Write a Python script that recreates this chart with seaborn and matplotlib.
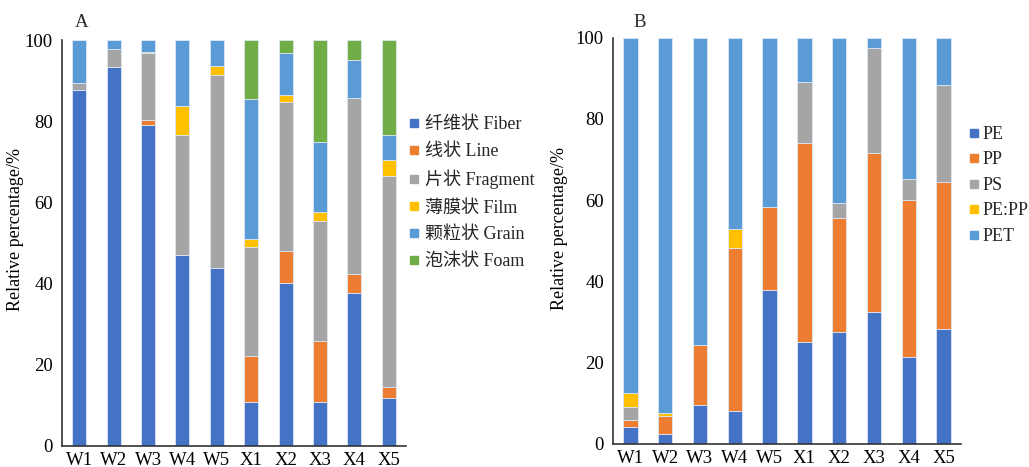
import numpy as np
import pandas as pd
import matplotlib
matplotlib.use("Agg")
import matplotlib.pyplot as plt
from matplotlib.lines import Line2D
import seaborn as sns

# Sampling sites
sites = ["W1", "W2", "W3", "W4", "W5", "X1", "X2", "X3", "X4", "X5"]

# Panel A: microplastic shapes (relative percentage, %)
shape_labels = ["纤维状 Fiber", "线状 Line", "片状 Fragment", "薄膜状 Film", "颗粒状 Grain", "泡沫状 Foam"]
fiber    = [87.7, 93.4, 79.0, 47.0, 43.9, 10.9, 40.2, 10.9, 37.8, 11.7]
line     = [0.0, 0.0, 1.4, 0.0, 0.0, 11.3, 7.8, 15.0, 4.6, 2.8]
fragment = [1.6, 4.3, 16.3, 29.7, 47.6, 26.8, 36.8, 29.5, 43.2, 52.1]
film     = [0.0, 0.0, 0.3, 7.0, 2.2, 2.1, 1.7, 2.2, 0.0, 3.8]
grain    = [10.7, 2.3, 3.0, 16.3, 6.3, 34.3, 10.2, 17.4, 9.6, 6.1]
foam     = [0.0, 0.0, 0.0, 0.0, 0.0, 14.6, 3.3, 25.0, 4.8, 23.5]

# Panel B: polymer types (relative percentage, %)
polymer_labels = ["PE", "PP", "PS", "PE:PP", "PET"]
pe   = [4.1, 2.5, 9.5, 8.2, 37.8, 25.2, 27.5, 32.5, 21.3, 28.4]
pp   = [1.7, 4.3, 14.8, 40.1, 20.5, 48.8, 28.2, 39.2, 38.7, 36.2]
ps   = [3.4, 0.0, 0.0, 0.0, 0.0, 15.1, 3.6, 25.8, 5.2, 23.8]
pepp = [3.3, 0.8, 0.0, 4.7, 0.0, 0.0, 0.0, 0.0, 0.0, 0.0]
pet  = [87.5, 92.4, 75.7, 47.0, 41.7, 10.9, 40.5, 2.5, 34.8, 11.6]

colors_a = ["#4472C4", "#ED7D31", "#A5A5A5", "#FFC000", "#5B9BD5", "#70AD47"]
colors_b = ["#4472C4", "#ED7D31", "#A5A5A5", "#FFC000", "#5B9BD5"]

sns.set_theme(style="white")
plt.rcParams["font.family"] = ["Liberation Serif", "Noto Sans CJK SC", "DejaVu Sans"]
plt.rcParams["axes.unicode_minus"] = False

fig = plt.figure(figsize=(10.29, 4.67), dpi=100)
ax_a = fig.add_axes([0.0603, 0.045, 0.3343, 0.8693])
ax_b = fig.add_axes([0.5957, 0.0493, 0.3382, 0.8700])


def stacked(ax, series, labels, colors):
    bottom = np.zeros(len(sites))
    for vals, lab, col in zip(series, labels, colors):
        df = pd.DataFrame({"site": sites, "value": vals})
        sns.barplot(data=df, x="site", y="value", order=sites, color=col,
                    width=0.41, bottom=bottom, ax=ax, errorbar=None,
                    edgecolor="#dce6f2", linewidth=0.6, saturation=1)
        bottom = bottom + np.asarray(vals)


def style_axis(ax, letter, x_letter, label_xy):
    ax.set_ylim(0, 100)
    ax.set_xlim(-0.5, 9.5)
    ax.set_yticks([0, 20, 40, 60, 80, 100])
    ax.set_yticklabels(["0", "20", "40", "60", "80", "100"])
    ax.tick_params(axis="y", which="major", length=0, pad=6.5, labelsize=13.5, colors="black")
    ax.tick_params(axis="x", which="major", length=0, pad=4, labelsize=13.5, colors="black")
    ax.set_yticks([100], minor=True)
    ax.set_xticks([9.5], minor=True)
    ax.tick_params(axis="y", which="minor", direction="in", length=4, width=1.2, color="#333333")
    ax.tick_params(axis="x", which="minor", direction="in", length=8, width=1.2, color="#333333")
    ax.set_xlabel("")
    ax.set_ylabel("Relative percentage/%", fontsize=13, color="black")
    ax.yaxis.set_label_coords(*label_xy)
    for s in ["top", "right"]:
        ax.spines[s].set_visible(False)
    for s in ["left", "bottom"]:
        ax.spines[s].set_color("#333333")
        ax.spines[s].set_linewidth(1.2)
    fig.text(x_letter, 0.951, letter, fontsize=13.5, ha="center", va="center")


stacked(ax_a, [fiber, line, fragment, film, grain, foam], shape_labels, colors_a)
stacked(ax_b, [pe, pp, ps, pepp, pet], polymer_labels, colors_b)
style_axis(ax_a, "A", 82 / 1029, (-0.110, 0.534))
style_axis(ax_b, "B", 640 / 1029, (-0.129, 0.53))


def legend(ax, labels, colors, anchor, spacing, pad):
    handles = [Line2D([], [], marker="s", linestyle="", markersize=6,
                      markerfacecolor=c, markeredgecolor=c) for c in colors]
    ax.legend(handles, labels, loc="upper left", bbox_to_anchor=anchor,
              bbox_transform=fig.transFigure, frameon=False, fontsize=13,
              handletextpad=pad, handlelength=1.0, labelspacing=spacing,
              borderaxespad=0, borderpad=0)


legend(ax_a, shape_labels, colors_a, (405 / 1029, 1 - 116 / 467), 0.55, 0.1)
legend(ax_b, polymer_labels, colors_b, (965 / 1029, 1 - 126 / 467), 0.47, -0.05)

fig.savefig("out.png", dpi=100)
